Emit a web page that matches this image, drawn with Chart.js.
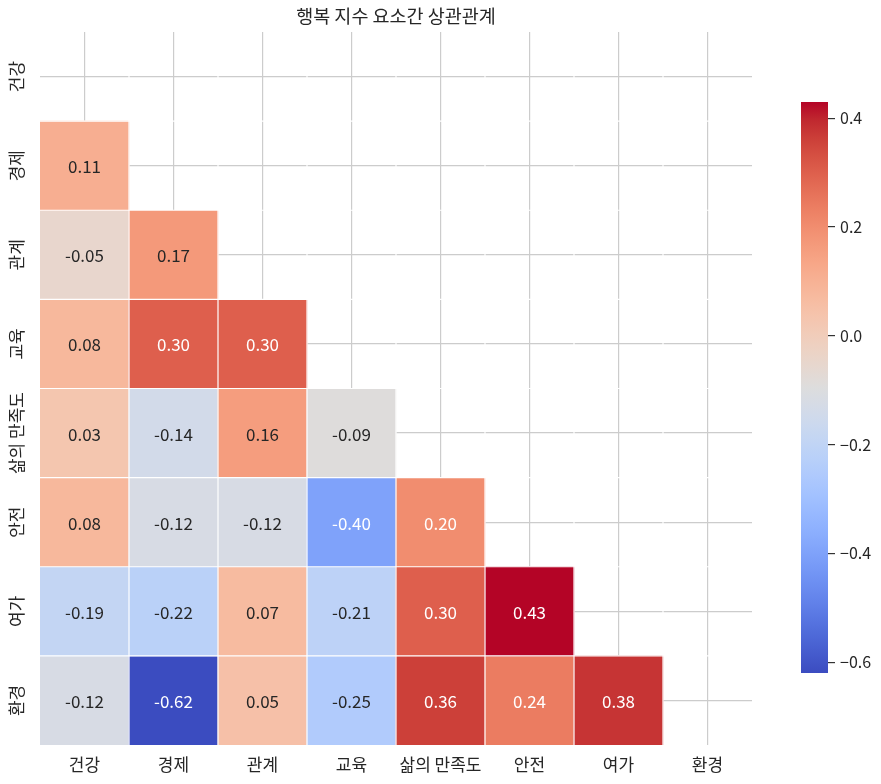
<!DOCTYPE html>
<html>
<head>
<meta charset="utf-8">
<title>행복 지수 요소간 상관관계</title>
<style>
  html, body { margin: 0; padding: 0; background: #fff; }
  #wrap { position: relative; width: 881px; height: 784px; }
  .box { position: absolute; top: 0; height: 784px; }
</style>
<script src="https://cdn.jsdelivr.net/npm/chart.js@4.4.1/dist/chart.umd.min.js"></script>
</head>
<body>
<div id="wrap">
  <div class="box" style="left:0;width:881px"><canvas id="heat"></canvas></div>
  <div class="box" style="left:790px;width:91px"><canvas id="cbar"></canvas></div>
</div>
<script>
// --- Daten: untere Dreiecksmatrix der Korrelationen ---
const factors = ["건강", "경제", "관계", "교육", "삶의 만족도", "안전", "여가", "환경"];
const rowHealth = [];
const rowEconomy = [0.11];
const rowRelation = [-0.05, 0.17];
const rowEducation = [0.08, 0.30, 0.30];
const rowLife = [0.03, -0.14, 0.16, -0.09];
const rowSafety = [0.08, -0.12, -0.12, -0.40, 0.20];
const rowLeisure = [-0.19, -0.22, 0.07, -0.21, 0.30, 0.43];
const rowEnv = [-0.12, -0.62, 0.05, -0.25, 0.36, 0.24, 0.38];
const cbTicks = [-0.6, -0.4, -0.2, 0.0, 0.2, 0.4];
const chartTitle = "행복 지수 요소간 상관관계";

const rows = [rowHealth, rowEconomy, rowRelation, rowEducation, rowLife, rowSafety, rowLeisure, rowEnv];
const allValues = rows.flat();
const vmin = Math.min(...allValues);
const vmax = Math.max(...allValues);

// coolwarm (33 Stützstellen)
const COOLWARM = [
  [59,76,192],[68,90,204],[77,104,215],[87,117,225],[98,130,234],[108,142,241],
  [119,154,247],[130,165,251],[141,176,254],[152,185,255],[163,194,255],[174,201,253],
  [184,208,249],[194,213,244],[204,217,238],[213,219,230],[221,221,221],[229,216,209],
  [236,211,197],[241,204,185],[245,196,173],[247,187,160],[247,177,148],[247,166,135],
  [244,154,123],[241,141,111],[236,127,99],[229,112,88],[222,96,77],[213,80,66],
  [203,62,56],[192,40,47],[180,4,38]
];

function cmap(t) {
  t = Math.max(0, Math.min(1, t));
  const pos = t * (COOLWARM.length - 1);
  const i = Math.min(Math.floor(pos), COOLWARM.length - 2);
  const f = pos - i;
  const a = COOLWARM[i], b = COOLWARM[i + 1];
  return [0, 1, 2].map(k => a[k] + (b[k] - a[k]) * f);
}
function rgbStr(c) {
  return "rgb(" + c.map(v => Math.round(v)).join(",") + ")";
}
function colorFor(v) {
  return cmap((v - vmin) / (vmax - vmin));
}
// wie seaborn: helle Zellen -> dunkle Schrift
function textColorFor(v) {
  const lin = colorFor(v).map(x => {
    x /= 255;
    return x <= 0.03928 ? x / 12.92 : Math.pow((x + 0.055) / 1.055, 2.4);
  });
  const lum = 0.2126 * lin[0] + 0.7152 * lin[1] + 0.0722 * lin[2];
  return lum > 0.408 ? "#262626" : "#ffffff";
}

const FONT = '"Noto Sans CJK KR", "Noto Sans", sans-serif';
const TEXT = "#262626";
Chart.defaults.font.family = FONT;
Chart.defaults.color = TEXT;

// Ein Datensatz pro Zeile, schwebende Balken [r, r+1]
const datasets = rows.map((vals, r) => ({
  label: factors[r],
  values: vals,
  data: factors.map((_, c) => (c < vals.length ? [r, r + 1] : null)),
  backgroundColor: factors.map((_, c) => (c < vals.length ? rgbStr(colorFor(vals[c])) : "transparent")),
  borderWidth: 0,
  barPercentage: 1,
  categoryPercentage: 1,
  grouped: false
}));

// weiße Zellkanten (auch im maskierten Bereich)
const cellEdges = {
  id: "cellEdges",
  afterDatasetsDraw(chart) {
    const { ctx, chartArea: a, scales: { x, y } } = chart;
    ctx.save();
    ctx.strokeStyle = "#ffffff";
    ctx.lineWidth = 1.2;
    ctx.beginPath();
    for (let i = 1; i < factors.length; i++) {
      const px = x.getPixelForValue(i - 0.5);
      const py = y.getPixelForValue(i);
      ctx.moveTo(px, a.top); ctx.lineTo(px, a.bottom);
      ctx.moveTo(a.left, py); ctx.lineTo(a.right, py);
    }
    ctx.stroke();
    ctx.restore();
  }
};

// Zahlen in den Zellen
const annotations = {
  id: "annotations",
  afterDatasetsDraw(chart) {
    const ctx = chart.ctx;
    ctx.save();
    ctx.font = "17px " + FONT;
    ctx.textAlign = "center";
    ctx.textBaseline = "middle";
    chart.data.datasets.forEach((ds, di) => {
      const meta = chart.getDatasetMeta(di);
      ds.values.forEach((v, c) => {
        const el = meta.data[c];
        ctx.fillStyle = textColorFor(v);
        ctx.fillText(v.toFixed(2), el.x, (el.y + el.base) / 2 + 1);
      });
    });
    ctx.restore();
  }
};

// Achsenbeschriftungen + Titel
const labelsAndTitle = {
  id: "labelsAndTitle",
  afterDraw(chart) {
    const { ctx, chartArea: a, scales: { x, y } } = chart;
    ctx.save();
    ctx.fillStyle = TEXT;
    ctx.font = "17px " + FONT;
    ctx.textAlign = "center";
    ctx.textBaseline = "middle";
    factors.forEach((name, i) => {
      ctx.fillText(name, x.getPixelForValue(i), a.bottom + 20);
    });
    factors.forEach((name, i) => {
      ctx.save();
      ctx.translate(a.left - 23, y.getPixelForValue(i + 0.5));
      ctx.rotate(-Math.PI / 2);
      ctx.fillText(name, 0, 0);
      ctx.restore();
    });
    ctx.font = "18.5px " + FONT;
    ctx.fillText(chartTitle, (a.left + a.right) / 2, a.top - 16);
    ctx.restore();
  }
};

new Chart(document.getElementById("heat"), {
  type: "bar",
  data: { labels: factors, datasets: datasets },
  options: {
    responsive: true,
    maintainAspectRatio: false,
    animation: false,
    layout: { padding: { left: 40, right: 129, top: 32, bottom: 39 } },
    plugins: { legend: { display: false }, tooltip: { enabled: false }, title: { display: false } },
    scales: {
      x: {
        type: "category",
        offset: true,
        grid: { offset: false, color: "#cccccc", lineWidth: 1.2, drawTicks: false },
        border: { display: false },
        ticks: { display: false },
        afterFit(s) { s.height = 0; }
      },
      y: {
        type: "linear",
        reverse: true,
        min: 0,
        max: factors.length,
        afterBuildTicks(s) { s.ticks = factors.map((_, i) => ({ value: i + 0.5 })); },
        grid: { color: "#cccccc", lineWidth: 1.2, drawTicks: false },
        border: { display: false },
        ticks: { display: false },
        afterFit(s) { s.width = 0; }
      }
    }
  },
  plugins: [cellEdges, annotations, labelsAndTitle]
});

// Farbleiste als eigenes Diagramm
new Chart(document.getElementById("cbar"), {
  type: "bar",
  data: {
    labels: ["cb"],
    datasets: [{
      data: [[vmin, vmax]],
      barPercentage: 1,
      categoryPercentage: 1,
      borderWidth: 0,
      backgroundColor(context) {
        const a = context.chart.chartArea;
        if (!a) return "#dddddd";
        const g = context.chart.ctx.createLinearGradient(0, a.bottom, 0, a.top);
        COOLWARM.forEach((c, i) => g.addColorStop(i / (COOLWARM.length - 1), rgbStr(c)));
        return g;
      }
    }]
  },
  options: {
    responsive: true,
    maintainAspectRatio: false,
    animation: false,
    layout: { padding: { left: 11, right: 0, top: 102, bottom: 111 } },
    plugins: { legend: { display: false }, tooltip: { enabled: false } },
    scales: {
      x: { display: false },
      y: {
        type: "linear",
        position: "right",
        min: vmin,
        max: vmax,
        afterBuildTicks(s) { s.ticks = cbTicks.map(v => ({ value: v })); },
        afterFit(s) { s.width = 53; },
        grid: { drawOnChartArea: false, drawTicks: true, tickLength: 7, color: "#333333", lineWidth: 1.2 },
        border: { display: false },
        ticks: {
          color: TEXT,
          padding: 5,
          font: { size: 16, family: FONT },
          callback: v => (v < 0 ? "\u2212" : "") + Math.abs(v).toFixed(1)
        }
      }
    }
  }
});
</script>
</body>
</html>
